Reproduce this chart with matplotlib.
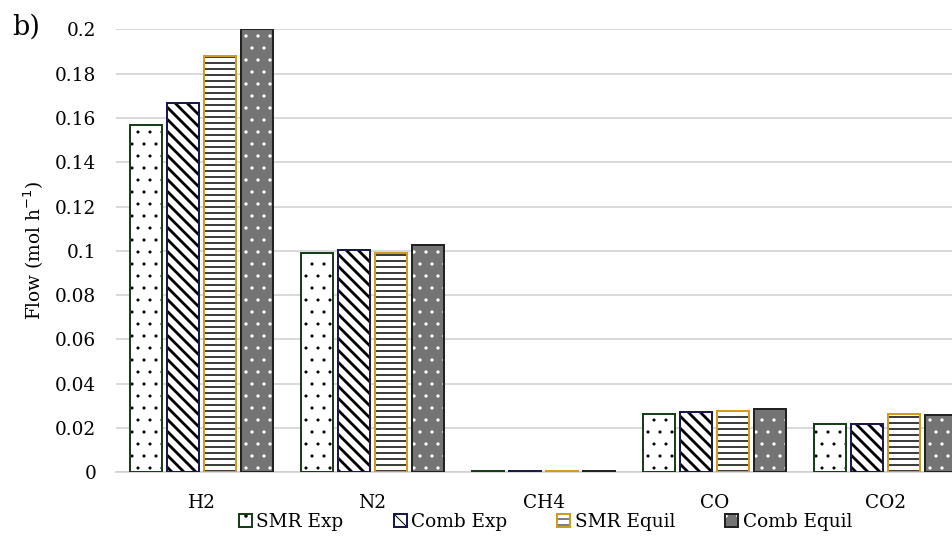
import matplotlib
matplotlib.use("Agg")
import matplotlib.pyplot as plt
import numpy as np
from matplotlib.patches import Patch

# Gas flows leaving the reactor (mol/h)
categories = ["H2", "N2", "CH4", "CO", "CO2"]
smr_exp = [0.157, 0.0989, 0.0005, 0.0265, 0.0219]
comb_exp = [0.1666, 0.1004, 0.0005, 0.0274, 0.0219]
smr_equil = [0.188, 0.0989, 0.0005, 0.0278, 0.0265]
comb_equil = [0.2, 0.1028, 0.0005, 0.0284, 0.026]
series_names = ["SMR Exp", "Comb Exp", "SMR Equil", "Comb Equil"]
y_ticks = [0, 0.02, 0.04, 0.06, 0.08, 0.1, 0.12, 0.14, 0.16, 0.18, 0.2]
y_tick_labels = ["0", "0.02", "0.04", "0.06", "0.08", "0.1", "0.12",
                 "0.14", "0.16", "0.18", "0.2"]

# style per series: fill, hatch, hatch colour, hatch width, frame colour
styles = [
    dict(face="white", hatch=".", hcol="black", hlw=0.6, edge="#17401a"),
    dict(face="white", hatch="\\\\", hcol="black", hlw=2.8, edge="#1a1a4a"),
    dict(face="white", hatch="--", hcol="black", hlw=1.5, edge="#d39b1c"),
    dict(face="#747474", hatch=".", hcol="white", hlw=0.8, edge="#222222"),
]

FONT = "DejaVu Serif"
FS = 18.5
plt.rcParams["font.family"] = FONT

W, H, DPI = 952, 538, 72
fig = plt.figure(figsize=(W / DPI, H / DPI), dpi=DPI)
ax_left, ax_right, ax_bottom, ax_top = 116, 971, 472.3, 29.3
ax = fig.add_axes([ax_left / W, (H - ax_bottom) / H,
                   (ax_right - ax_left) / W, (ax_bottom - ax_top) / H])

x = np.arange(len(categories))
pitch = 0.2164
width = 0.184
offsets = (np.arange(4) - 1.5) * pitch
all_series = [smr_exp, comb_exp, smr_equil, comb_equil]

handles = []
for vals, off, st, name in zip(all_series, offsets, styles, series_names):
    with plt.rc_context({"hatch.linewidth": st["hlw"]}):
        ax.bar(x + off, vals, width, color=st["face"], hatch=st["hatch"],
               edgecolor=st["hcol"], linewidth=0, zorder=2)
        h1 = Patch(facecolor=st["face"], hatch=st["hatch"],
                   edgecolor=st["hcol"], linewidth=0)
    ax.bar(x + off, vals, width, facecolor="none", edgecolor=st["edge"],
           linewidth=2.0, zorder=3)
    h2 = Patch(facecolor="none", edgecolor=st["edge"], linewidth=2.0)
    handles.append((h1, h2))

ax.set_xlim(-0.5, len(categories) - 0.5)
ax.set_ylim(0, 0.2)
ax.set_yticks(y_ticks)
ax.set_yticklabels(y_tick_labels)
ax.set_xticks(x)
ax.set_xticklabels(categories)
ax.tick_params(axis="both", length=0, labelsize=FS, colors="black")
ax.tick_params(axis="y", pad=20)
ax.tick_params(axis="x", pad=22)

ax.set_axisbelow(True)
ax.yaxis.grid(True, color="#d0d0d0", linewidth=1.6)
for side in ["left", "right", "top"]:
    ax.spines[side].set_visible(False)
ax.spines["bottom"].set_color("#d0d0d0")
ax.spines["bottom"].set_linewidth(1.6)

ax.set_ylabel("Flow (mol h$^{-1}$)", fontsize=FS)
ax.yaxis.set_label_coords((46 - ax_left) / (ax_right - ax_left), 0.5)

fig.text(12 / W, (H - 35) / H, "b)", fontsize=27, va="baseline", ha="left")

fig.legend(handles, series_names, loc="center", ncol=4,
           bbox_to_anchor=(545.5 / W, (H - 522) / H), frameon=False,
           fontsize=FS, handlelength=0.7, handleheight=0.7,
           handletextpad=0.25, columnspacing=2.7, borderpad=0, borderaxespad=0)

fig.savefig("out.png", dpi=DPI)
